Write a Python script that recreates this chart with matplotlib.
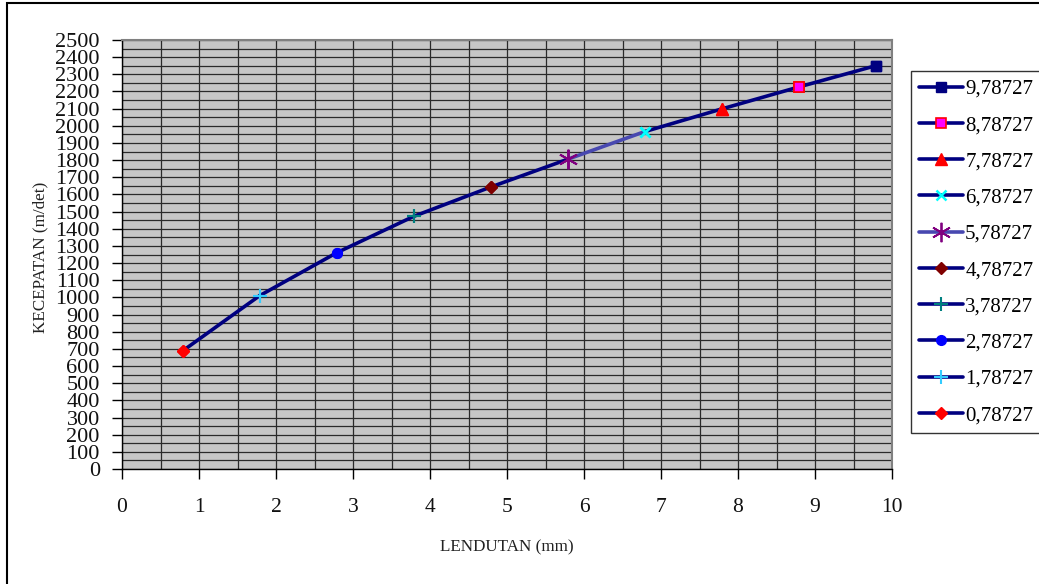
import matplotlib
matplotlib.use("Agg")
import matplotlib.pyplot as plt
from matplotlib.patches import Rectangle

# Deflection (mm) and velocity (m/det) for each series
lendutan = [0.78727, 1.78727, 2.78727, 3.78727, 4.78727,
            5.78727, 6.78727, 7.78727, 8.78727, 9.78727]
kecepatan = [688, 1010, 1260, 1472, 1643, 1805, 1966, 2098, 2226, 2350]
series_labels = ["0,78727", "1,78727", "2,78727", "3,78727", "4,78727",
                 "5,78727", "6,78727", "7,78727", "8,78727", "9,78727"]

x_ticks = list(range(0, 11))
y_ticks = list(range(0, 2501, 100))

# Marker style per series
styles = [
    dict(marker="D", ms=6, mfc="#FF0000", mec="#FF0000", mew=1),
    dict(marker="+", ms=10, mfc="none", mec="#33CCFF", mew=1.5),
    dict(marker="o", ms=7, mfc="#0000FF", mec="#0000FF", mew=1),
    dict(marker="+", ms=10, mfc="none", mec="#008080", mew=1.5),
    dict(marker="D", ms=6, mfc="#800000", mec="#800000", mew=1),
    dict(marker=(6, 2, 0), ms=14, mfc="none", mec="#800080", mew=1.3),
    dict(marker="x", ms=7, mfc="none", mec="#00FFFF", mew=1.8),
    dict(marker="^", ms=9, mfc="#FF0000", mec="#FF0000", mew=1),
    dict(marker="s", ms=7, mfc="#FF00FF", mec="#FF0000", mew=1.2),
    dict(marker="s", ms=7, mfc="#000080", mec="#000080", mew=1),
]
line_colors = ["#000080"] * 10
line_colors[5] = "#4848B0"

plt.rcParams["font.family"] = ["Liberation Serif", "DejaVu Serif"]

fig = plt.figure(figsize=(10.39, 5.84), dpi=100)
fig.patch.set_facecolor("white")
ax = fig.add_axes([122 / 1039, 115 / 584, 770 / 1039, 429 / 584])
ax.set_facecolor("#C6C6C6")

# each series: a segment from its point to the next one, marker at its point
handles = []
n = len(lendutan)
for i in range(n):
    h, = ax.plot(lendutan[i:i + 2], kecepatan[i:i + 2], color=line_colors[i],
                 lw=2.6, markevery=[0], solid_capstyle="round", zorder=3,
                 label=series_labels[i], **styles[i])
    handles.append(h)

# markers drawn on top of all line segments
for i in range(n):
    ax.plot([lendutan[i]], [kecepatan[i]], linestyle="none", zorder=5,
            **styles[i])

ax.set_xlim(0, 10)
ax.set_ylim(0, 2500)
ax.set_xticks(x_ticks)
ax.set_xticklabels([str(v) for v in x_ticks])
ax.set_yticks(y_ticks)
ax.set_yticklabels([str(v) for v in y_ticks])
ax.set_xticks([v + 0.5 for v in x_ticks[:-1]], minor=True)
ax.set_yticks([v + 50 for v in y_ticks[:-1]], minor=True)

ax.grid(True, which="both", color="#2a2a2a", lw=0.9, zorder=1)
ax.set_axisbelow(True)

ax.tick_params(axis="both", which="major", direction="out", length=7,
               width=1, color="black", labelcolor="#111111")
ax.tick_params(axis="x", which="major", pad=14, labelsize=15.5)
ax.tick_params(axis="y", which="major", pad=9, labelsize=16)
ax.tick_params(axis="both", which="minor", length=0)

for side in ("left", "bottom"):
    ax.spines[side].set_color("black")
    ax.spines[side].set_linewidth(1.0)
for side in ("top", "right"):
    ax.spines[side].set_color("#808080")
    ax.spines[side].set_linewidth(1.5)

fig.text(40 / 1039, 1 - 257 / 584, "KECEPATAN (m/det)", rotation=90,
         ha="center", va="center", fontsize=12.3, color="#222222")
fig.text(507 / 1039, 1 - 547 / 584, "LENDUTAN (mm)",
         ha="center", va="center", fontsize=12.3, color="#222222")

leg = fig.legend(handles[::-1], series_labels[::-1], loc="upper left",
                 bbox_to_anchor=(911 / 1039, 1 - 71 / 584),
                 borderaxespad=0, frameon=True, fancybox=False,
                 edgecolor="black", fontsize=15, labelspacing=0.80,
                 handlelength=2.1, handletextpad=0.1, borderpad=0.4)
leg.get_frame().set_linewidth(1.0)

# outer chart border
fig.add_artist(Rectangle((7 / 1039, -0.2), 1.2, 1.2 - 3 / 584,
                         transform=fig.transFigure, fill=False,
                         edgecolor="black", lw=1.5, clip_on=False))

fig.savefig("out.png", dpi=100)
